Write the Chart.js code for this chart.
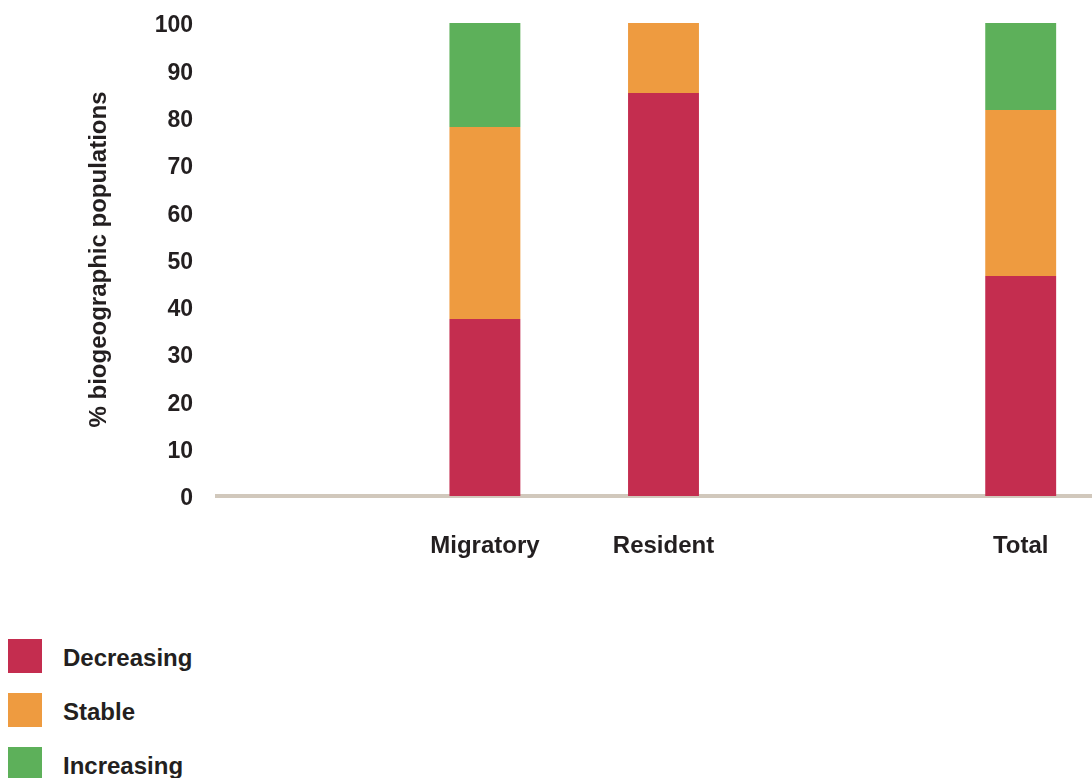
<!DOCTYPE html>
<html>
<head>
<meta charset="utf-8">
<script src="https://cdn.jsdelivr.net/npm/chart.js@4"></script>
<style>
  html, body { margin: 0; padding: 0; background: #fff; overflow: hidden; width: 1092px; height: 778px; }
  #wrap { position: absolute; left: 0; top: 0; width: 1110px; height: 600px; }
  #legend { position: absolute; left: 8px; top: 639px; font-family: "Liberation Sans", Arial, sans-serif; font-weight: bold; font-size: 24px; color: #231f20; }
  .item { display: flex; align-items: center; height: 34px; margin-bottom: 20px; }
  .box { width: 34px; height: 34px; margin-right: 21px; }
  .item span { position: relative; top: 2px; }
</style>
</head>
<body>
<div id="wrap"><canvas id="chart" width="1110" height="600"></canvas></div>
<div id="legend"></div>
<script>
// DADOS
const categories = ["", "Migratory", "Resident", "", "Total"];
const decreasing = [null, 37.4, 85.2, null, 46.5];
const stable = [null, 40.6, 14.8, null, 35.1];
const increasing = [null, 22.0, null, null, 18.4];
const yTicks = [0, 10, 20, 30, 40, 50, 60, 70, 80, 90, 100];

const seriesNames = ["Decreasing", "Stable", "Increasing"];
const seriesColors = ["#c42d4f", "#ee9b40", "#5db05a"];
const textColor = "#231f20";
const fontFamily = "'Liberation Sans', Arial, sans-serif";

const seriesData = [decreasing, stable, increasing];

const datasets = seriesNames.map((name, i) => ({
  label: name,
  data: seriesData[i],
  backgroundColor: seriesColors[i],
  borderWidth: 0,
  barPercentage: 0.397,
  categoryPercentage: 1
}));

// GRAFICO
const ctx = document.getElementById("chart").getContext("2d");

const chart = new Chart(ctx, {
  type: "bar",
  data: { labels: categories, datasets: datasets },
  options: {
    responsive: false,
    animation: false,
    layout: { padding: { top: 23, left: 0, right: 0, bottom: 0 } },
    plugins: {
      legend: { display: false },
      tooltip: { enabled: false }
    },
    scales: {
      x: {
        stacked: true,
        grid: { display: false, drawTicks: false },
        border: { display: true, color: "#d1c8bc", width: 4 },
        ticks: {
          color: textColor,
          padding: 36,
          font: { family: fontFamily, size: 24, weight: "bold" }
        },
        afterFit: (scale) => {
          scale.height = 104;
          scale.paddingLeft = 0;
          scale.paddingRight = 0;
        }
      },
      y: {
        stacked: true,
        min: 0,
        max: 100,
        grid: { display: false, drawTicks: false },
        border: { display: false },
        afterBuildTicks: (scale) => {
          scale.ticks = yTicks.map(v => ({ value: v }));
        },
        ticks: {
          color: textColor,
          padding: 24,
          labelOffset: 3,
          font: { family: fontFamily, size: 23, weight: "bold" }
        },
        title: {
          display: true,
          text: "% biogeographic populations",
          color: textColor,
          padding: { top: 85, bottom: 0 },
          font: { family: fontFamily, size: 24, weight: "bold" }
        },
        afterFit: (scale) => {
          scale.width = 217;
          scale.paddingTop = 0;
          scale.paddingBottom = 0;
        }
      }
    }
  }
});

// LEGENDA
const legend = document.getElementById("legend");
chart.data.datasets.forEach((ds) => {
  legend.innerHTML += `
    <div class="item">
      <div class="box" style="background:${ds.backgroundColor}"></div>
      <span>${ds.label}</span>
    </div>
  `;
});
</script>
</body>
</html>
